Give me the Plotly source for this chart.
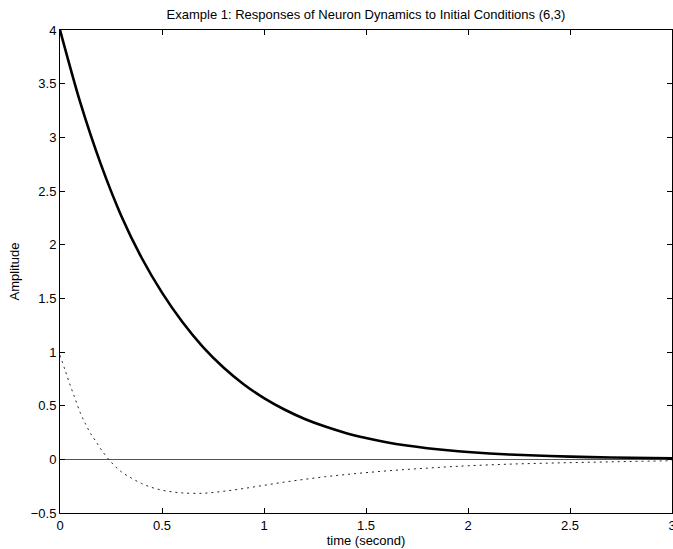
import plotly.graph_objects as go

# Solid curve (first state)
t_solid = [0.0, 0.1, 0.2, 0.3, 0.4, 0.5, 0.6, 0.7, 0.8, 0.9, 1.0, 1.1, 1.2, 1.3, 1.4,
           1.5, 1.6, 1.7, 1.8, 1.9, 2.0, 2.2, 2.4, 2.6, 2.8, 3.0]
y_solid = [4.0, 3.32, 2.75, 2.27, 1.878, 1.553, 1.279, 1.048, 0.858, 0.70, 0.57, 0.464,
           0.376, 0.305, 0.246, 0.199, 0.160, 0.129, 0.104, 0.084, 0.068, 0.045, 0.031,
           0.021, 0.015, 0.01]

# Dotted curve (second state)
t_dot = [0.0, 0.025, 0.05, 0.075, 0.1, 0.125, 0.15, 0.175, 0.2, 0.25, 0.3, 0.35, 0.4,
         0.45, 0.5, 0.55, 0.6, 0.7, 0.8, 0.9, 1.0, 1.1, 1.2, 1.3, 1.4, 1.5, 1.6, 1.7,
         1.8, 1.9, 2.0, 2.2, 2.4, 2.6, 2.8, 3.0]
y_dot = [0.97, 0.83, 0.69, 0.56, 0.43, 0.33, 0.24, 0.17, 0.096, -0.025, -0.115, -0.175,
         -0.225, -0.262, -0.287, -0.303, -0.313, -0.316, -0.298, -0.272, -0.242, -0.212,
         -0.186, -0.162, -0.142, -0.124, -0.108, -0.094, -0.082, -0.07, -0.06, -0.045,
         -0.035, -0.027, -0.02, -0.013]

x_ticks = [0, 0.5, 1, 1.5, 2, 2.5, 3]
x_ticklabels = ["0", "0.5", "1", "1.5", "2", "2.5", "3"]
y_ticks = [-0.5, 0, 0.5, 1, 1.5, 2, 2.5, 3, 3.5, 4]
y_ticklabels = ["\u22120.5", "0", "0.5", "1", "1.5", "2", "2.5", "3", "3.5", "4"]

title_text = "Example 1: Responses of Neuron Dynamics to Initial Conditions (6,3)"
x_title = "time (second)"
y_title = "Amplitude"

FONT = "Liberation Sans, Arial, Helvetica, sans-serif"

fig = go.Figure()
fig.add_trace(go.Scatter(x=t_solid, y=y_solid, mode="lines",
                         line=dict(color="black", width=2.6, shape="spline", smoothing=0.8),
                         showlegend=False, hoverinfo="skip"))
fig.add_trace(go.Scatter(x=t_dot, y=y_dot, mode="lines",
                         line=dict(color="#222", width=1, dash="2px,4px", shape="spline"),
                         showlegend=False, hoverinfo="skip"))

axis_common = dict(showgrid=False, showline=True, linecolor="black", linewidth=1,
                   mirror="ticks", ticks="inside", ticklen=5, tickcolor="black",
                   tickwidth=1, automargin=False, ticklabeloverflow="allow",
                   tickfont=dict(family=FONT, size=13, color="black"))

fig.update_layout(
    width=673, height=549,
    margin=dict(l=60, r=1, t=30, b=36),
    paper_bgcolor="white", plot_bgcolor="white",
    title=dict(text=title_text, x=(60 + 672) / 2 / 673, xanchor="center",
               y=1 - 14 / 549, yanchor="middle",
               font=dict(family=FONT, size=13, color="black")),
    xaxis=dict(range=[0, 3], tickvals=x_ticks, ticktext=x_ticklabels,
               zeroline=False,
               title=dict(text=x_title, standoff=0, font=dict(family=FONT, size=13, color="black")),
               **axis_common),
    yaxis=dict(range=[-0.5, 4], tickvals=y_ticks, ticktext=y_ticklabels,
               zeroline=True, zerolinecolor="#555", zerolinewidth=1,
               title=dict(text=y_title, standoff=8, font=dict(family=FONT, size=13, color="black")),
               **axis_common),
)

post = ("document.body.style.margin='0px';"
        "document.body.style.padding='0px';"
        "document.body.style.overflow='hidden';")

fig.write_html("out.html", post_script=post,
               config={"responsive": False, "displayModeBar": False})
